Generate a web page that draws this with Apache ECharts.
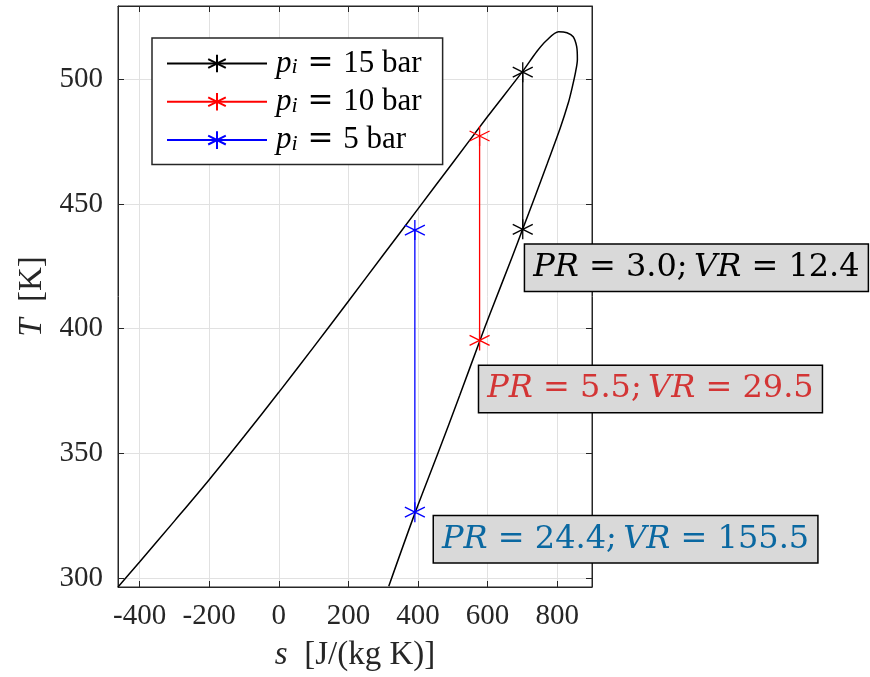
<!DOCTYPE html>
<html>
<head>
<meta charset="utf-8">
<script src="https://cdn.jsdelivr.net/npm/echarts@6/dist/echarts.min.js"></script>
<style>
  html, body { margin: 0; padding: 0; background: #fff; }
  #chart { width: 870px; height: 677px; }
</style>
</head>
<body>
<div id="chart"></div>
<script>
/* ================= DATA ================= */
// saturation dome, left branch -> nose -> right branch
const domeS = [-462, -400, -300, -200, -100, 0, 100, 200, 300, 400, 500, 600, 700, 742, 770, 804, 828, 846, 856, 858, 853, 842, 832, 809, 771, 732, 701, 670, 607, 578, 520, 457, 391, 316];
const domeT = [296.5, 306.5, 322.9, 339.5, 356.8, 374.5, 392.6, 411, 429.5, 448, 466.5, 485, 503, 511.2, 515.6, 519, 518.6, 517, 513, 508, 503, 496, 490.5, 480.5, 466, 451.4, 440, 428.5, 406, 395.3, 373.3, 350, 326, 296.8];

// expansion lines (s constant, T high -> low)
const caseNames = ["15 bar", "10 bar", "5 bar"];
const caseColors = ["#000000", "#ff0000", "#0000ff"];
const caseS = [701, 577, 391];
const caseTHigh = [502.8, 477.2, 439.5];
const caseTLow = [439.8, 395.3, 326.5];

// annotation boxes (left edge / vertical centre, data coords)
const noteS = [708, 576, 446];
const noteT = [424.4, 375.8, 315.6];
const notePR = ["3.0", "5.5", "24.4"];
const noteVR = ["12.4", "29.5", "155.5"];
const noteColors = ["#000000", "#d33535", "#0a68a1"];

const xMin = -462, xMax = 900;
const yMin = 296.5, yMax = 529.3;

/* ================= CHART ================= */
const AXIS = "#262626";
const SERIF = "'Liberation Serif', 'DejaVu Serif', serif";
const DEJAVU = "'DejaVu Serif', serif";
const STAR = "path://M0,-10L0,10M-8.66,-5L8.66,5M-8.66,5L8.66,-5";

const chart = echarts.init(document.getElementById("chart"), null, { renderer: "canvas" });

const caseSeries = caseNames.map((name, i) => ({
  name,
  type: "line",
  xAxisIndex: 0,
  yAxisIndex: 0,
  data: [[caseS[i], caseTHigh[i]], [caseS[i], caseTLow[i]]],
  symbol: STAR,
  symbolSize: [20, 20],
  showSymbol: true,
  lineStyle: { color: caseColors[i], width: 1.3 },
  itemStyle: { color: caseColors[i], borderColor: caseColors[i], borderWidth: 1.3, opacity: 1 },
  z: 3,
}));

const noteData = noteS.map((s, i) => ({
  value: [s, noteT[i]],
  label: {
    color: noteColors[i],
    formatter: `{i|PR} = ${notePR[i]};\u2009{i|VR} = ${noteVR[i]}`,
    rich: { i: { fontStyle: "italic", color: noteColors[i], fontSize: 32, fontFamily: DEJAVU } },
  },
}));

const nameStyle = {
  fontFamily: SERIF, fontSize: 33, color: "#262626",
  rich: { i: { fontFamily: SERIF, fontSize: 33, fontStyle: "italic", color: "#262626" } },
};

const option = {
  backgroundColor: "#fff",
  animation: false,
  grid: {
    left: 118, top: 6, right: 278, bottom: 90,
    show: true, borderColor: AXIS, borderWidth: 1, backgroundColor: "transparent",
  },
  legend: {
    data: caseNames,
    orient: "vertical",
    left: 152, top: 38,
    itemWidth: 100, itemHeight: 22, itemGap: 7.3,
    padding: [10, 21, 9, 14],
    backgroundColor: "#fff",
    borderColor: AXIS, borderWidth: 1.5, borderRadius: 0,
    formatter: (name) => `{p|p}{s|i}{e| = }{t|${name}}`,
    textStyle: {
      fontFamily: SERIF, fontSize: 30, color: "#000", lineHeight: 30,
      rich: {
        p: { fontFamily: SERIF, fontSize: 31, fontStyle: "italic", lineHeight: 30, padding: [0, 0, 0, 4] },
        s: { fontFamily: SERIF, fontSize: 22, fontStyle: "italic", lineHeight: 20, verticalAlign: "bottom" },
        e: { fontFamily: DEJAVU, fontSize: 31, lineHeight: 30 },
        t: { fontFamily: SERIF, fontSize: 31, lineHeight: 30 },
      },
    },
  },
  xAxis: [
    {
      type: "value", position: "bottom", min: xMin, max: xMax,
      splitNumber: 7, minInterval: 200, maxInterval: 200,
      name: "{i|s}  [J/(kg K)]", nameLocation: "middle", nameGap: 52,
      nameTextStyle: nameStyle,
      axisLine: { show: true, onZero: false, lineStyle: { color: AXIS, width: 1 } },
      axisTick: { show: true, inside: true, length: 6, lineStyle: { color: AXIS } },
      axisLabel: { fontFamily: SERIF, fontSize: 29, color: "#262626", margin: 15, showMinLabel: false, showMaxLabel: false },
      splitLine: { show: true, lineStyle: { color: "#e1e1e1", width: 1 } },
    },
    {
      type: "value", position: "top", min: xMin, max: xMax,
      splitNumber: 7, minInterval: 200, maxInterval: 200,
      axisLine: { show: true, onZero: false, lineStyle: { color: AXIS, width: 1 } },
      axisTick: { show: true, inside: true, length: 6, lineStyle: { color: AXIS } },
      axisLabel: { show: false },
      splitLine: { show: false },
    },
  ],
  yAxis: [
    {
      type: "value", position: "left", min: yMin, max: yMax,
      splitNumber: 5, minInterval: 50, maxInterval: 50,
      name: "{i|T}  [K]", nameLocation: "middle", nameGap: 68,
      nameTextStyle: nameStyle,
      axisLine: { show: true, onZero: false, lineStyle: { color: AXIS, width: 1 } },
      axisTick: { show: true, inside: true, length: 6, lineStyle: { color: AXIS } },
      axisLabel: { fontFamily: SERIF, fontSize: 29, color: "#262626", margin: 15, showMinLabel: false, showMaxLabel: false },
      splitLine: { show: true, lineStyle: { color: "#e1e1e1", width: 1 } },
    },
    {
      type: "value", position: "right", min: yMin, max: yMax,
      splitNumber: 5, minInterval: 50, maxInterval: 50,
      axisLine: { show: true, onZero: false, lineStyle: { color: AXIS, width: 1 } },
      axisTick: { show: true, inside: true, length: 6, lineStyle: { color: AXIS } },
      axisLabel: { show: false },
      splitLine: { show: false },
    },
  ],
  series: [
    {
      name: "dome",
      type: "line",
      xAxisIndex: 0, yAxisIndex: 0,
      data: domeS.map((s, i) => [s, domeT[i]]),
      smooth: 0.3,
      showSymbol: false,
      lineStyle: { color: "#000", width: 1.5 },
      z: 2,
    },
    ...caseSeries,
    {
      name: "notes",
      type: "scatter",
      xAxisIndex: 0, yAxisIndex: 0,
      data: noteData,
      symbolSize: 0,
      clip: false,
      z: 10,
      itemStyle: { opacity: 1 },
      label: {
        show: true,
        position: "right",
        distance: 0,
        fontFamily: DEJAVU,
        fontSize: 32,
        lineHeight: 38,
        opacity: 1,
        backgroundColor: "#d9d9d9",
        borderColor: "#000",
        borderWidth: 1.5,
        padding: [4, 8, 4, 8],
      },
      emphasis: { disabled: true },
    },
  ],
};

chart.setOption(option);
</script>
</body>
</html>
